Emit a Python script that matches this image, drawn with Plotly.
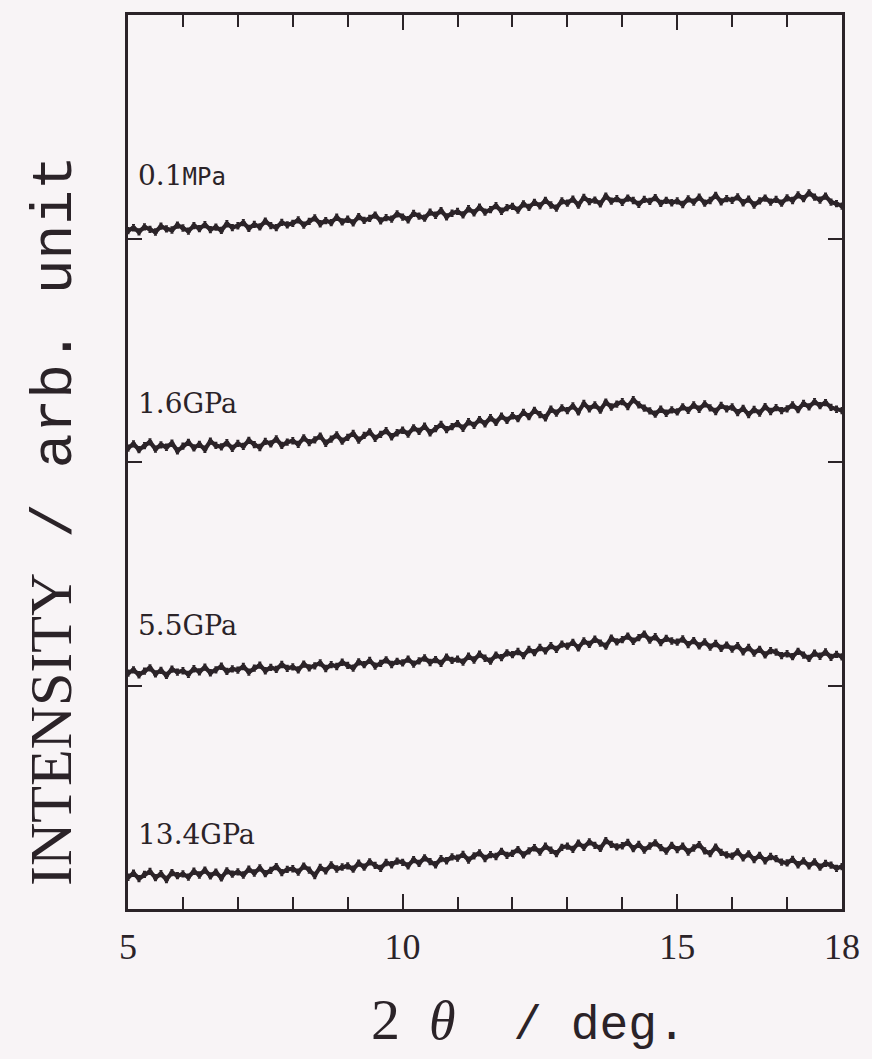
import plotly.graph_objects as go

two_theta = [5.0, 5.1, 5.2, 5.3, 5.4, 5.5, 5.6, 5.7, 5.8, 5.9,
             6.0, 6.1, 6.2, 6.3, 6.4, 6.5, 6.6, 6.7, 6.8, 6.9,
             7.0, 7.1, 7.2, 7.3, 7.4, 7.5, 7.6, 7.7, 7.8, 7.9,
             8.0, 8.1, 8.2, 8.3, 8.4, 8.5, 8.6, 8.7, 8.8, 8.9,
             9.0, 9.1, 9.2, 9.3, 9.4, 9.5, 9.6, 9.7, 9.8, 9.9,
             10.0, 10.1, 10.2, 10.3, 10.4, 10.5, 10.6, 10.7, 10.8, 10.9,
             11.0, 11.1, 11.2, 11.3, 11.4, 11.5, 11.6, 11.7, 11.8, 11.9,
             12.0, 12.1, 12.2, 12.3, 12.4, 12.5, 12.6, 12.7, 12.8, 12.9,
             13.0, 13.1, 13.2, 13.3, 13.4, 13.5, 13.6, 13.7, 13.8, 13.9,
             14.0, 14.1, 14.2, 14.3, 14.4, 14.5, 14.6, 14.7, 14.8, 14.9,
             15.0, 15.1, 15.2, 15.3, 15.4, 15.5, 15.6, 15.7, 15.8, 15.9,
             16.0, 16.1, 16.2, 16.3, 16.4, 16.5, 16.6, 16.7, 16.8, 16.9,
             17.0, 17.1, 17.2, 17.3, 17.4, 17.5, 17.6, 17.7, 17.8, 17.9,
             18.0]

i_01MPa = [3.035, 3.048, 3.030, 3.052, 3.041, 3.029, 3.055, 3.043, 3.038, 3.060,
           3.047, 3.033, 3.058, 3.044, 3.062, 3.040, 3.051, 3.036, 3.066, 3.049,
           3.057, 3.071, 3.045, 3.063, 3.052, 3.078, 3.058, 3.049, 3.072, 3.061,
           3.068, 3.083, 3.060, 3.077, 3.092, 3.066, 3.080, 3.071, 3.095, 3.074,
           3.086, 3.070, 3.098, 3.081, 3.090, 3.105, 3.079, 3.093, 3.087, 3.110,
           3.096, 3.084, 3.112, 3.100, 3.091, 3.118, 3.104, 3.125, 3.097, 3.113,
           3.121, 3.106, 3.133, 3.115, 3.140, 3.118, 3.129, 3.147, 3.122, 3.138,
           3.144, 3.127, 3.155, 3.139, 3.162, 3.146, 3.171, 3.150, 3.136, 3.168,
           3.158, 3.176, 3.149, 3.184, 3.165, 3.172, 3.155, 3.190, 3.167, 3.178,
           3.162, 3.181, 3.170, 3.153, 3.175, 3.166, 3.183, 3.157, 3.171, 3.160,
           3.168, 3.152, 3.177, 3.163, 3.185, 3.158, 3.170, 3.193, 3.164, 3.178,
           3.171, 3.186, 3.160, 3.176, 3.150, 3.168, 3.181, 3.163, 3.175, 3.158,
           3.182, 3.170, 3.195, 3.178, 3.204, 3.185, 3.172, 3.190, 3.163, 3.156,
           3.145]

i_16GPa = [2.062, 2.081, 2.055, 2.073, 2.090, 2.058, 2.077, 2.066, 2.084, 2.050,
           2.071, 2.088, 2.063, 2.079, 2.057, 2.093, 2.074, 2.068, 2.086, 2.061,
           2.083, 2.070, 2.097, 2.078, 2.065, 2.092, 2.081, 2.103, 2.074, 2.089,
           2.095, 2.079, 2.108, 2.087, 2.099, 2.116, 2.084, 2.102, 2.121, 2.093,
           2.110, 2.128, 2.098, 2.119, 2.135, 2.106, 2.124, 2.140, 2.113, 2.131,
           2.142, 2.125, 2.153, 2.137, 2.160, 2.131, 2.149, 2.168, 2.145, 2.158,
           2.172, 2.151, 2.180, 2.164, 2.190, 2.171, 2.198, 2.177, 2.205, 2.186,
           2.207, 2.194, 2.222, 2.203, 2.231, 2.212, 2.198, 2.236, 2.219, 2.242,
           2.230, 2.251, 2.224, 2.262, 2.238, 2.255, 2.232, 2.268, 2.246, 2.259,
           2.270, 2.248, 2.279, 2.256, 2.241, 2.229, 2.214, 2.236, 2.218, 2.233,
           2.224, 2.247, 2.231, 2.255, 2.236, 2.260, 2.242, 2.226, 2.253, 2.238,
           2.246, 2.221, 2.240, 2.212, 2.235, 2.219, 2.248, 2.226, 2.243, 2.230,
           2.238, 2.255, 2.234, 2.262, 2.247, 2.270, 2.252, 2.266, 2.244, 2.236,
           2.230]

i_55GPa = [1.055, 1.070, 1.048, 1.064, 1.079, 1.052, 1.068, 1.045, 1.073, 1.060,
           1.066, 1.050, 1.075, 1.061, 1.082, 1.057, 1.070, 1.086, 1.063, 1.074,
           1.069, 1.085, 1.060, 1.078, 1.091, 1.066, 1.081, 1.072, 1.094, 1.077,
           1.083, 1.070, 1.096, 1.079, 1.088, 1.101, 1.076, 1.093, 1.085, 1.104,
           1.090, 1.078, 1.106, 1.093, 1.112, 1.087, 1.099, 1.115, 1.094, 1.108,
           1.101, 1.118, 1.096, 1.110, 1.123, 1.103, 1.116, 1.099, 1.127, 1.112,
           1.118, 1.105, 1.131, 1.114, 1.140, 1.122, 1.109, 1.136, 1.125, 1.146,
           1.138, 1.152, 1.134, 1.161, 1.147, 1.170, 1.155, 1.178, 1.162, 1.185,
           1.176, 1.193, 1.168, 1.199, 1.184, 1.207, 1.190, 1.176, 1.212, 1.195,
           1.205, 1.221, 1.198, 1.214, 1.230, 1.203, 1.218, 1.192, 1.211, 1.199,
           1.194, 1.208, 1.183, 1.201, 1.177, 1.195, 1.172, 1.188, 1.166, 1.181,
           1.163, 1.178, 1.151, 1.170, 1.145, 1.162, 1.137, 1.156, 1.149, 1.134,
           1.142, 1.129, 1.153, 1.136, 1.121, 1.145, 1.131, 1.150, 1.126, 1.139,
           1.128]

i_134GPa = [0.142, 0.160, 0.136, 0.155, 0.168, 0.140, 0.158, 0.132, 0.163, 0.149,
            0.157, 0.143, 0.169, 0.152, 0.174, 0.148, 0.165, 0.139, 0.171, 0.156,
            0.166, 0.152, 0.178, 0.161, 0.184, 0.158, 0.173, 0.190, 0.163, 0.177,
            0.180, 0.165, 0.192, 0.174, 0.150, 0.186, 0.171, 0.197, 0.179, 0.188,
            0.193, 0.178, 0.205, 0.187, 0.211, 0.195, 0.182, 0.208, 0.198, 0.214,
            0.209, 0.193, 0.221, 0.204, 0.229, 0.212, 0.198, 0.225, 0.216, 0.233,
            0.228, 0.244, 0.219, 0.238, 0.251, 0.226, 0.243, 0.235, 0.258, 0.240,
            0.249, 0.266, 0.242, 0.260, 0.274, 0.255, 0.281, 0.263, 0.248, 0.276,
            0.281, 0.267, 0.295, 0.276, 0.300, 0.285, 0.271, 0.306, 0.289, 0.278,
            0.283, 0.298, 0.270, 0.289, 0.264, 0.282, 0.296, 0.275, 0.259, 0.285,
            0.266, 0.281, 0.255, 0.273, 0.288, 0.260, 0.248, 0.277, 0.253, 0.242,
            0.237, 0.256, 0.229, 0.247, 0.221, 0.240, 0.216, 0.235, 0.225, 0.210,
            0.206, 0.222, 0.198, 0.215, 0.193, 0.211, 0.187, 0.204, 0.196, 0.182,
            0.190]

series = [i_01MPa, i_16GPa, i_55GPa, i_134GPa]
label_num = ["0.1", "1.6", "5.5", "13.4"]
label_unit = ["MPa", "GPa", "GPa", "GPa"]
label_y = [3.28, 2.26, 1.27, 0.335]
x_ticks = [5, 10, 15, 18]

INK = "#2b2328"
BG = "#f8f4f6"
SERIF = "Liberation Serif"
WSERIF = "DejaVu Serif"
MONO = "Liberation Mono"
WMONO = "DejaVu Sans Mono"

fig = go.Figure()
for ys in series:
    fig.add_trace(go.Scatter(
        x=two_theta, y=ys, mode="lines+markers",
        line=dict(color=INK, width=4.2),
        marker=dict(color=INK, size=5),
        error_y=dict(type="constant", value=0.013, color=INK, thickness=1.5, width=1.5),
        showlegend=False, hoverinfo="skip"))

for num, unit, yy in zip(label_num, label_unit, label_y):
    if unit == "MPa":
        utext = f"<span style='font-family:{WMONO};font-size:24px'>{unit}</span>"
    else:
        utext = f"<span style='font-family:{WSERIF};font-size:27px'>{unit}</span>"
    fig.add_annotation(
        x=5.14, y=yy, xref="x", yref="y", xanchor="left", yanchor="middle",
        showarrow=False, text=f"{num}{utext}",
        font=dict(family=WSERIF, size=28, color=INK))

fig.add_annotation(
    x=0.561, y=-0.124, xref="paper", yref="paper", xanchor="center", yanchor="middle",
    showarrow=False,
    text=(f"<span style='font-family:{SERIF};font-size:58px'>2  </span>"
          f"<span style='font-family:{SERIF};font-size:54px'><i>θ</i></span>"
          f"<span style='font-family:{MONO};font-size:48px'>  / deg.</span>"),
    font=dict(family=SERIF, size=48, color=INK))

fig.add_annotation(
    x=-0.105, y=0.434, xref="paper", yref="paper", xanchor="center", yanchor="middle",
    showarrow=False, textangle=-90,
    text=(f"<span style='font-family:{SERIF};font-size:60px'>INTENSITY</span>"
          f"<span style='font-family:{MONO};font-size:58px'> / arb. unit</span>"),
    font=dict(family=SERIF, size=58, color=INK))

fig.update_xaxes(
    range=[5, 18], tickmode="array", tickvals=x_ticks,
    ticktext=[str(v) for v in x_ticks],
    ticks="inside", ticklen=15, tickwidth=2, tickcolor=INK,
    minor=dict(dtick=1, tick0=5, ticks="inside", ticklen=12, tickwidth=2, tickcolor=INK),
    showline=True, linecolor=INK, linewidth=2.5, mirror="ticks",
    showgrid=False, zeroline=False,
    tickfont=dict(family=SERIF, size=36, color=INK), ticklabelstandoff=4)

fig.update_yaxes(
    range=[0, 4], tickmode="array", tickvals=[1, 2, 3], showticklabels=False,
    ticks="inside", ticklen=14, tickwidth=2, tickcolor=INK,
    showline=True, linecolor=INK, linewidth=2.5, mirror="ticks",
    showgrid=False, zeroline=False)

fig.update_layout(
    width=872, height=1059,
    margin=dict(l=128, r=24, t=13, b=150),
    paper_bgcolor=BG, plot_bgcolor=BG,
    showlegend=False)

fig.write_html("out.html", config={"displayModeBar": False},
               post_script="document.body.style.margin='0';document.body.style.overflow='hidden';")
